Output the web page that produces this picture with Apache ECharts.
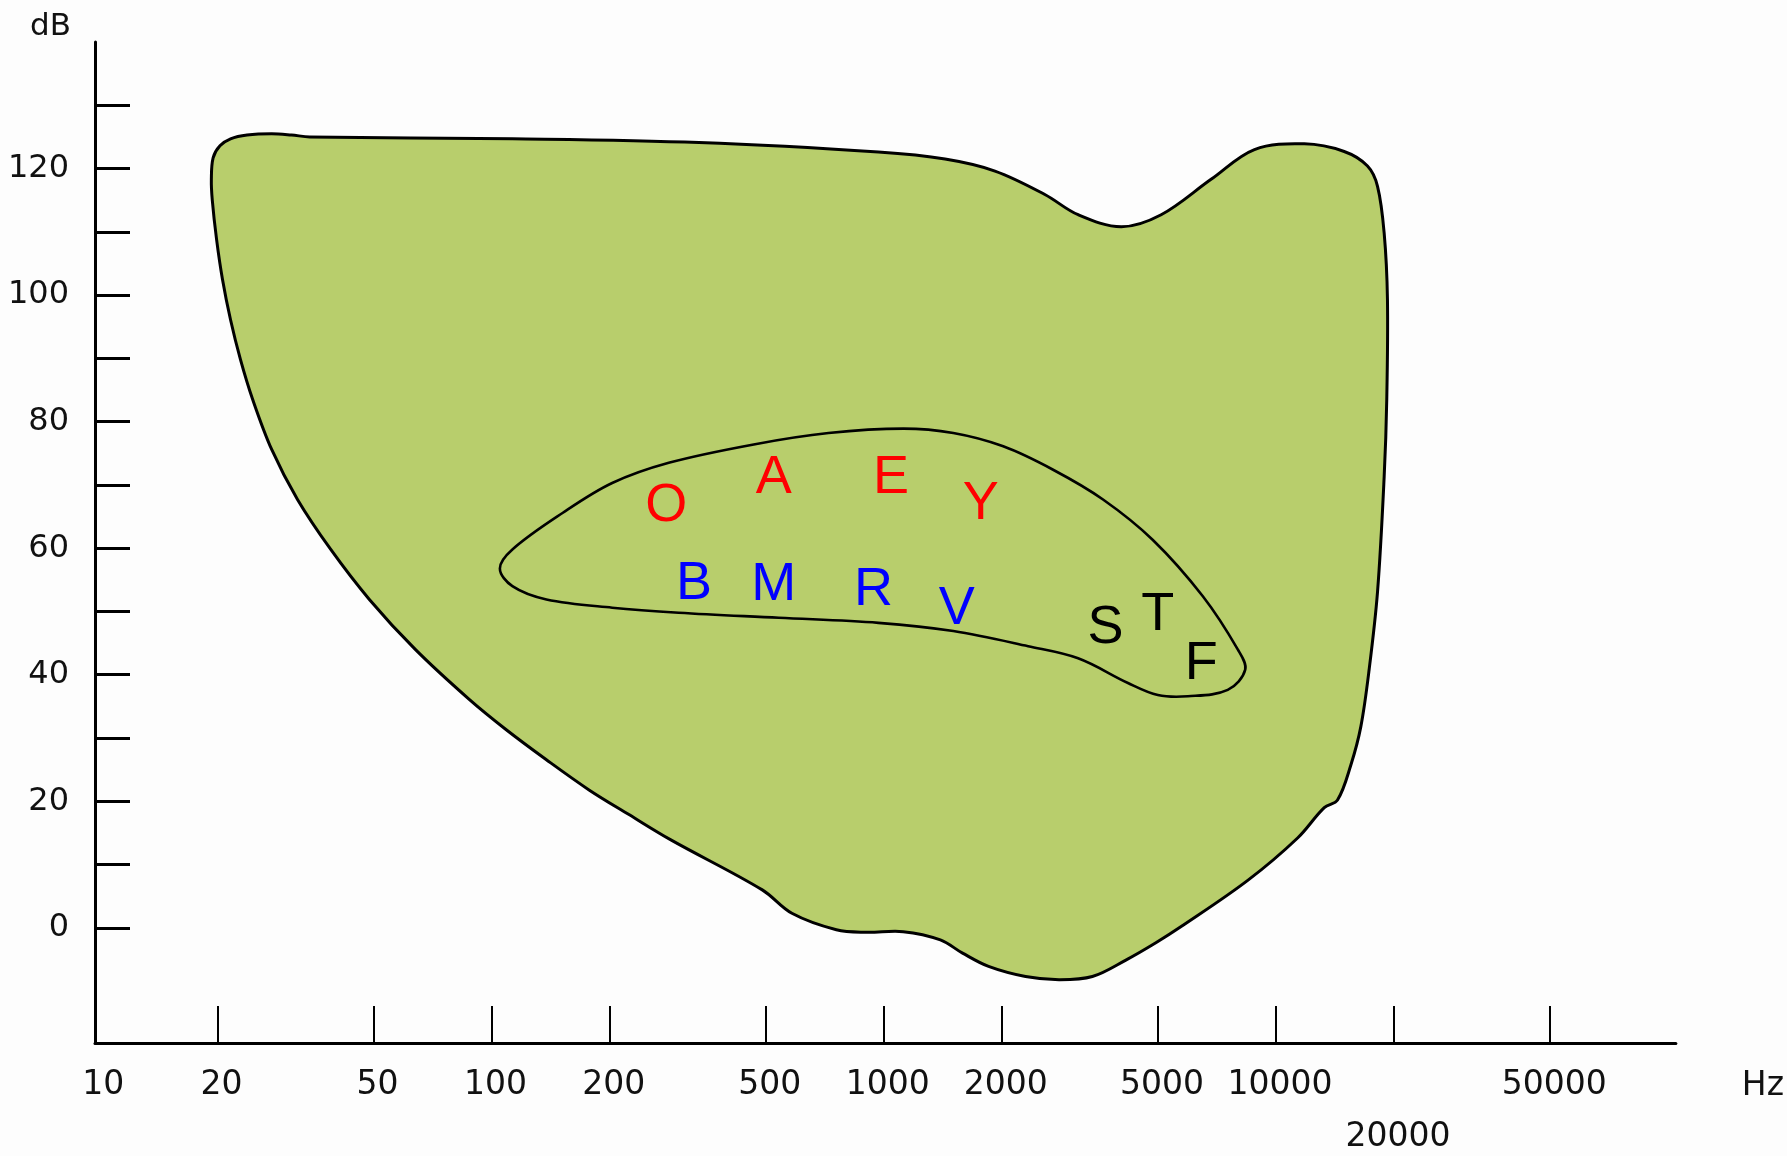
<!DOCTYPE html>
<html>
<head>
<meta charset="utf-8">
<script src="https://cdn.jsdelivr.net/npm/echarts@6/dist/echarts.min.js"></script>
<style>
html,body{margin:0;padding:0;background:#fdfdfd;}
#chart{width:1787px;height:1156px;}
</style>
</head>
<body>
<div id="chart"></div>
<script>
// ---- data ----
// hearing area outline (frequency in Hz, level in dB), clockwise from top-left
const outerHz = [19.3, 19.5, 20.3, 21.6, 23.8, 27.5, 30.9, 34.4, 113, 338, 969, 1433, 1921, 2574, 3129, 4033, 5096, 6831, 8811, 11806, 14923, 17112, 18149, 18871, 19239, 19160, 18871, 18149, 17283, 16455, 15512, 14350, 13275, 11353, 8471, 5730, 4928, 4142, 3403, 2798, 2299, 1850, 1588, 1394, 1121, 902, 757, 583, 490, 286.5, 224, 177.2, 137.7, 109, 87.7, 63.9, 48.8, 38.9, 32.0, 27.5, 24.6, 22.9, 21.6, 20.6, 19.9, 19.4];
const outerDb = [118.3, 121.7, 123.6, 124.7, 125.3, 125.5, 125.3, 125.0, 124.7, 124.1, 122.6, 121.5, 119.6, 115.9, 112.7, 110.8, 112.7, 118.3, 123.0, 123.9, 122.7, 120.4, 117.2, 109.8, 99.3, 83.5, 71.3, 53.1, 40.9, 31.8, 25.7, 20.2, 19.0, 14.2, 7.5, 0.2, -2.4, -5.1, -7.7, -8.2, -7.7, -6.1, -4.0, -1.9, -0.6, -0.7, -0.3, 2.3, 6.0, 13.9, 17.9, 21.8, 26.6, 31.3, 36.1, 44.0, 51.9, 59.8, 67.7, 75.6, 83.5, 89.8, 96.1, 102.5, 108.8, 115.1];
// speech area ("banana") outline
const bananaHz = [105, 113, 152, 203, 283, 466, 723, 1122, 1504, 2016, 2702, 3622, 4854, 6508, 7988, 8347, 7534, 5961, 4997, 4193, 3129, 2334, 1504, 969, 540, 300, 203, 138, 113];
const bananaDb = [56.8, 59.8, 65.6, 70.3, 73.5, 76.4, 78.2, 78.9, 78.2, 76.1, 72.4, 67.7, 61.3, 52.4, 44.0, 40.8, 37.6, 36.6, 36.8, 38.7, 42.6, 44.5, 46.9, 48.2, 49.0, 49.8, 50.6, 51.9, 54.0];
// speech sounds
const letters = ['O', 'A', 'E', 'Y', 'B', 'M', 'R', 'V', 'S', 'T', 'F'];
const letterHz = [279, 524, 1043, 1767, 328, 524, 941, 1535, 3676, 4997, 6450];
const letterDb = [66.6, 71.0, 71.1, 67.0, 54.4, 54.1, 53.3, 50.3, 47.4, 49.4, 41.7];
const letterGroup = ['vowel', 'vowel', 'vowel', 'vowel', 'voiced', 'voiced', 'voiced', 'voiced', 'unvoiced', 'unvoiced', 'unvoiced'];
// axes
const xTickHz = [20, 50, 100, 200, 500, 1000, 2000, 5000, 10000, 20000, 50000];
const xLabelHz = [10, 20, 50, 100, 200, 500, 1000, 2000, 5000, 10000, 20000, 50000];
const yTickDb = [0, 10, 20, 30, 40, 50, 60, 70, 80, 90, 100, 110, 120, 130];
const yLabelDb = [0, 20, 40, 60, 80, 100, 120];

// ---- chart ----
const groupColor = { vowel: '#ff0000', voiced: '#0000ff', unvoiced: '#000000' };
const lg = v => Math.log10(v);
const outerPts = outerHz.map((h, i) => [lg(h), outerDb[i]]);
const bananaPts = bananaHz.map((h, i) => [lg(h), bananaDb[i]]);
const letterPts = letterHz.map((h, i) => [lg(h), letterDb[i], letters[i], letterGroup[i]]);
const axisFont = 'DejaVu Sans';
const labelBase = { fontSize: 33, fontFamily: axisFont, color: '#111', padding: [0, 0, 0, 8] };

function polyRenderer(pts, style) {
  return function (params, api) {
    if (params.dataIndex !== 0) return null;
    const points = pts.map(p => api.coord([p[0], p[1]]));
    return { type: 'polygon', shape: { points: points, smooth: 0.35 }, style: style };
  };
}

const chart = echarts.init(document.getElementById('chart'), null, { renderer: 'canvas' });
chart.setOption({
  backgroundColor: '#fdfdfd',
  animation: false,
  grid: { left: 95, right: 108, top: 42, bottom: 113 },
  xAxis: {
    type: 'value', min: 0.9889, max: 5.0195,
    axisLine: { onZero: false, lineStyle: { color: '#000', width: 3 } },
    axisTick: { show: true, inside: true, length: 37, customValues: xTickHz.map(lg), lineStyle: { color: '#000', width: 2 } },
    axisLabel: {
      customValues: xLabelHz.map(lg), margin: 22, fontSize: 33, fontFamily: axisFont, color: '#111',
      formatter: v => { const f = Math.round(Math.pow(10, v)); return f === 20000 ? '{low|20000}' : '{n|' + f + '}'; },
      rich: {
        n: Object.assign({ lineHeight: 40 }, labelBase),
        low: Object.assign({ lineHeight: 144 }, labelBase)
      }
    },
    splitLine: { show: false },
    name: 'Hz', nameLocation: 'end', nameGap: 66,
    nameTextStyle: { fontSize: 33, fontFamily: axisFont, color: '#111', verticalAlign: 'top', padding: [27, 0, 0, 0] }
  },
  yAxis: {
    type: 'value', min: -18.2, max: 140,
    axisLine: { onZero: false, lineStyle: { color: '#000', width: 3 } },
    axisTick: { show: true, inside: true, length: 35, customValues: yTickDb, lineStyle: { color: '#000', width: 3 } },
    axisLabel: { customValues: yLabelDb, margin: 26, fontSize: 32, fontFamily: axisFont, color: '#111' },
    splitLine: { show: false },
    name: 'dB', nameLocation: 'end', nameGap: 0,
    nameTextStyle: { fontSize: 31, fontFamily: axisFont, color: '#111', align: 'right', padding: [0, 24, 0, 0] }
  },
  series: [
    {
      type: 'custom', coordinateSystem: 'cartesian2d', data: outerPts, z: 2,
      renderItem: polyRenderer(outerPts, { fill: '#b8ce6c', stroke: '#000', lineWidth: 3 })
    },
    {
      type: 'custom', coordinateSystem: 'cartesian2d', data: bananaPts, z: 3,
      renderItem: polyRenderer(bananaPts, { fill: 'none', stroke: '#000', lineWidth: 2.6 })
    },
    {
      type: 'custom', coordinateSystem: 'cartesian2d', data: letterPts, z: 4,
      renderItem: function (params, api) {
        const d = letterPts[params.dataIndex];
        const c = api.coord([d[0], d[1]]);
        return {
          type: 'text', x: c[0], y: c[1],
          style: { text: d[2], fill: groupColor[d[3]], font: '54px "Liberation Sans", Arial, sans-serif', align: 'center', verticalAlign: 'middle' }
        };
      }
    }
  ]
});
</script>
</body>
</html>
